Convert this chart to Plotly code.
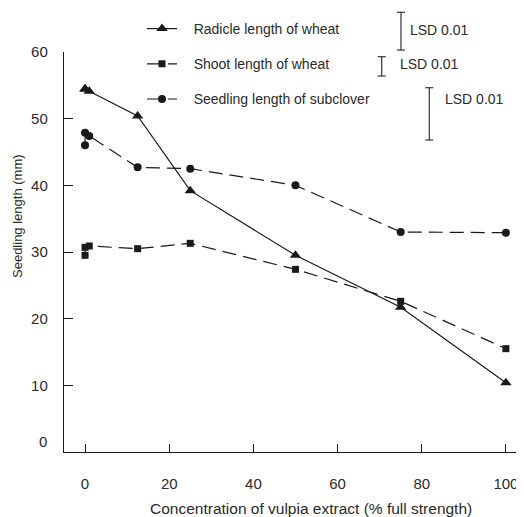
import plotly.graph_objects as go

# ---- data ----
conc = [0, 0, 1, 12.5, 25, 50, 75, 100]
radicle_wheat = [54.5, 54.4, 54.1, 50.4, 39.2, 29.5, 21.7, 10.4]
shoot_wheat = [29.5, 30.7, 30.9, 30.5, 31.3, 27.4, 22.6, 15.5]
seedling_subclover = [46.0, 47.9, 47.4, 42.7, 42.5, 40.0, 33.0, 32.9]

series_names = ["Radicle length of wheat", "Shoot length of wheat", "Seedling length of subclover"]
lsd_values = [5.66, 2.9, 7.85]
lsd_label = "LSD 0.01"

x_ticks = [0, 20, 40, 60, 80, 100]
y_ticks = [10, 20, 30, 40, 50, 60]

# ---- layout geometry (page has an 8px body margin) ----
OFF = 8
W, H = 524 - OFF, 517 - OFF
ML, MR, MT, MB = 64 - OFF, 0, 52 - OFF, 65
XR = [-5.0, 104.3]
YR = [0, 60]
PW, PH = W - ML - MR, H - MT - MB
INK = "#1a1a1a"
TXT = "#2a2a2a"
FONT = "Liberation Sans, Arial, sans-serif"


def px_x(px):
    return (px - OFF - ML) / PW


def px_y(py):
    return (H - MB - (py - OFF)) / PH


fig = go.Figure()
styles = [
    dict(dash="solid", symbol="triangle-up", size=10),
    dict(dash="14px,7px", symbol="square", size=7),
    dict(dash="14px,7px", symbol="circle", size=8),
]
for i, (name, vals) in enumerate(zip(series_names, [radicle_wheat, shoot_wheat, seedling_subclover])):
    st = styles[i]
    fig.add_trace(go.Scatter(
        x=conc, y=vals, mode="lines+markers",
        name="\u00a0\u00a0\u00a0" + name, legendgroup=f"g{i}",
        line=dict(color=INK, width=1.2, dash=st["dash"]),
        marker=dict(symbol=st["symbol"], size=st["size"], color=INK),
        cliponaxis=False,
    ))

# LSD bars (length from data, position as layout)
lsd_pos = [(401, 12.3, 408, 30), (381.7, 56.7, 398, 64), (429.3, 87.7, 443, 99)]
shapes = []
annotations = []
for v, (bx, btop, tx, ty) in zip(lsd_values, lsd_pos):
    length_px = v * PH / (YR[1] - YR[0])
    bbot = btop + length_px
    line = dict(color="#333", width=1.2)
    shapes.append(dict(type="line", xref="paper", yref="paper",
                       x0=px_x(bx), x1=px_x(bx), y0=px_y(btop), y1=px_y(bbot), line=line))
    for yy in (btop, bbot):
        shapes.append(dict(type="line", xref="paper", yref="paper",
                           x0=px_x(bx - 4), x1=px_x(bx + 4), y0=px_y(yy), y1=px_y(yy), line=line))
    annotations.append(dict(text=lsd_label, xref="paper", yref="paper", x=px_x(tx), y=px_y(ty),
                            xanchor="left", yanchor="middle", showarrow=False,
                            font=dict(size=14, color=TXT, family=FONT)))

# axis titles and stray "0" label
annotations.append(dict(text="Concentration of vulpia extract (% full strength)", xref="paper", yref="paper",
                        x=px_x(310.5), y=px_y(508), xanchor="center", yanchor="middle", showarrow=False,
                        font=dict(size=15.5, color=TXT, family=FONT)))
annotations.append(dict(text="Seedling length (mm)", xref="paper", yref="paper", textangle=-90,
                        x=px_x(17.5), y=px_y(216.5), xanchor="center", yanchor="middle", showarrow=False,
                        font=dict(size=13, color=TXT, family=FONT)))
annotations.append(dict(text="0", xref="paper", yref="paper", x=px_x(48.5), y=px_y(441.5),
                        xanchor="right", yanchor="middle", showarrow=False,
                        font=dict(size=15, color=TXT, family=FONT)))

fig.update_layout(
    width=W, height=H, margin=dict(l=ML, r=MR, t=MT, b=MB),
    paper_bgcolor="white", plot_bgcolor="white",
    font=dict(family=FONT, color=TXT),
    showlegend=True,
    legend=dict(x=px_x(142), y=px_y(13), xanchor="left", yanchor="top",
                font=dict(size=14, color=TXT, family=FONT), bgcolor="rgba(0,0,0,0)",
                tracegroupgap=14, traceorder="grouped"),
    shapes=shapes, annotations=annotations,
)
fig.update_xaxes(range=XR, tickvals=x_ticks, ticks="inside", ticklen=8, tickcolor=INK, tickwidth=1.2,
                 showline=True, linecolor=INK, linewidth=1.4, showgrid=False, zeroline=False,
                 tickfont=dict(size=15, color=TXT), ticklabelstandoff=18)
fig.update_yaxes(range=YR, tickvals=y_ticks, ticks="inside", ticklen=9, tickcolor=INK, tickwidth=1.2,
                 showline=True, linecolor=INK, linewidth=1.4, showgrid=False, zeroline=False,
                 tickfont=dict(size=15, color=TXT), ticklabelstandoff=12)

fig.write_html("out.html")
